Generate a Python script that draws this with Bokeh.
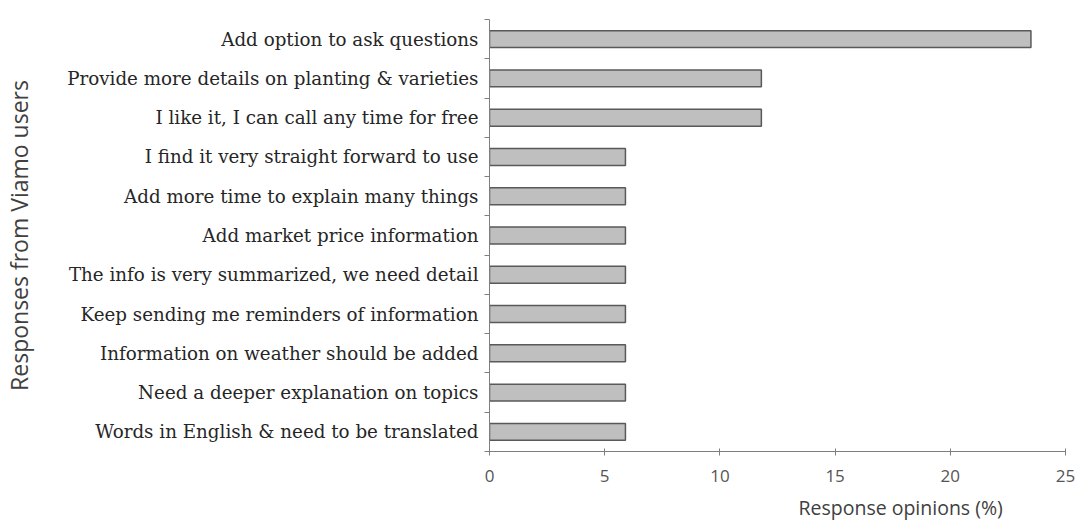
from bokeh.plotting import figure
from bokeh.models import Range1d, FixedTicker, ColumnDataSource, Title
from bokeh.embed import file_html
from bokeh.resources import INLINE

categories = [
    "Add option to ask questions",
    "Provide more details on planting & varieties",
    "I like it, I can call any time for free",
    "I find it very straight forward to use",
    "Add more time to explain many things",
    "Add market price information",
    "The info is very summarized, we need detail",
    "Keep sending me reminders of information",
    "Information on weather should be added",
    "Need a deeper explanation on topics",
    "Words in English & need to be translated",
]
values = [23.5, 11.8, 11.8, 5.9, 5.9, 5.9, 5.9, 5.9, 5.9, 5.9, 5.9]
x_ticks = [0, 5, 10, 15, 20, 25]

pos = list(range(len(categories)))
src = ColumnDataSource(dict(y=pos, v=values))

p = figure(width=1079, height=531, output_backend="svg", toolbar_location=None,
           x_range=Range1d(0, 25), y_range=Range1d(len(categories) - 0.5, -0.5),
           min_border_left=489, min_border_top=19, min_border_bottom=80, min_border_right=14)
p.outline_line_color = None
p.grid.grid_line_color = None
p.background_fill_color = "white"

p.hbar(y="y", right="v", left=0, height=0.43, source=src,
       fill_color="#bfbfbf", line_color="#595959", line_width=1.5)

ya = p.yaxis[0]
ya.ticker = FixedTicker(ticks=pos, minor_ticks=[i - 0.5 for i in range(len(categories) + 1)])
ya.major_label_overrides = {i: c for i, c in enumerate(categories)}
ya.major_tick_out = 0
ya.major_tick_in = 0
ya.minor_tick_out = 5
ya.minor_tick_in = 0
ya.minor_tick_line_color = "#7f7f7f"
ya.axis_line_color = "#7f7f7f"
ya.major_label_text_font = "DejaVu Serif"
ya.major_label_text_font_size = "18.3px"
ya.major_label_text_color = "#262626"
ya.major_label_standoff = 6
ya.axis_label = "Responses from Viamo users"
ya.axis_label_text_font = "Open Sans"
ya.axis_label_text_font_style = "normal"
ya.axis_label_text_font_size = "23px"
ya.axis_label_text_color = "#404040"
ya.axis_label_standoff = 29

xa = p.xaxis[0]
xa.ticker = FixedTicker(ticks=x_ticks, minor_ticks=[])
xa.major_tick_out = 4
xa.major_tick_in = 3
xa.major_tick_line_color = "#7f7f7f"
xa.axis_line_color = "#7f7f7f"
xa.major_label_text_font = "Open Sans"
xa.major_label_text_font_size = "17px"
xa.major_label_text_color = "#555555"
xa.major_label_standoff = 14

p.add_layout(Title(text="Response opinions (%)", align="left", offset=309,
                   text_font="Open Sans", text_font_style="normal",
                   text_font_size="19.5px", text_color="#404040", standoff=15), "below")

open("out.html", "w").write(file_html(p, INLINE))
